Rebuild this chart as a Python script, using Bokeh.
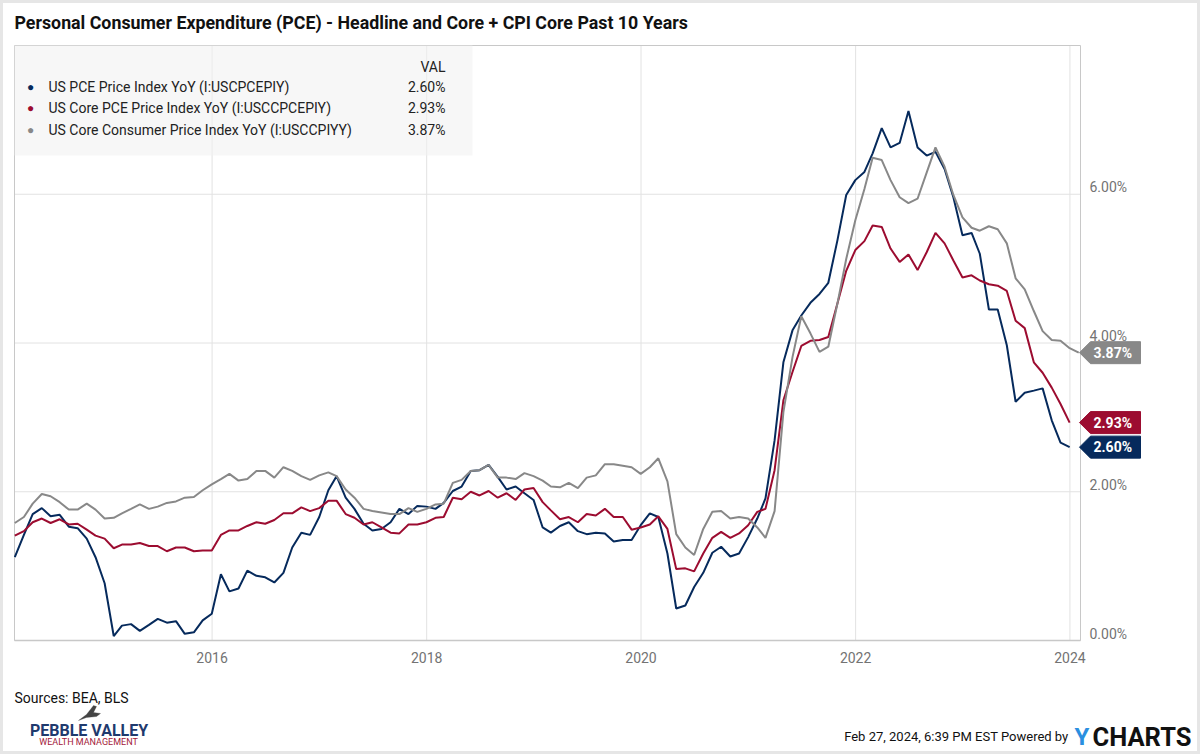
import pandas as pd
from bokeh.plotting import figure
from bokeh.models import (ColumnDataSource, Label, LabelSet, BoxAnnotation, PolyAnnotation, Range1d)
from bokeh.core.properties import value
from bokeh.embed import file_html
from bokeh.resources import INLINE

# ---------------- data (monthly YoY %, month-end dates) ----------------
pce_2014 = [1.12, 1.42, 1.70, 1.78, 1.67, 1.69, 1.53, 1.51, 1.37, 1.12, 0.77]
pce_2015 = [0.06, 0.20, 0.22, 0.13, 0.21, 0.29, 0.24, 0.26, 0.09, 0.11, 0.27, 0.36]
pce_2016 = [0.89, 0.66, 0.70, 0.94, 0.87, 0.85, 0.78, 0.91, 1.25, 1.45, 1.42, 1.66]
pce_2017 = [2.02, 2.21, 1.92, 1.77, 1.57, 1.48, 1.50, 1.59, 1.77, 1.70, 1.81, 1.80]
pce_2018 = [1.77, 1.85, 2.01, 2.07, 2.28, 2.29, 2.36, 2.20, 2.03, 2.07, 1.98, 1.89]
pce_2019 = [1.52, 1.45, 1.54, 1.59, 1.47, 1.43, 1.45, 1.44, 1.33, 1.35, 1.35, 1.55]
pce_2020 = [1.71, 1.66, 1.17, 0.43, 0.47, 0.72, 0.91, 1.18, 1.26, 1.13, 1.17, 1.39]
pce_2021 = [1.64, 1.91, 2.69, 3.74, 4.17, 4.37, 4.54, 4.66, 4.81, 5.38, 5.99, 6.19]
pce_2022 = [6.30, 6.55, 6.89, 6.63, 6.69, 7.12, 6.63, 6.52, 6.57, 6.34, 5.96, 5.45]
pce_2023 = [5.48, 5.20, 4.45, 4.45, 3.97, 3.21, 3.33, 3.36, 3.39, 2.96, 2.66, 2.60]

core_pce_2014 = [1.41, 1.47, 1.59, 1.64, 1.58, 1.63, 1.56, 1.57, 1.49, 1.41, 1.37]
core_pce_2015 = [1.24, 1.29, 1.29, 1.31, 1.27, 1.27, 1.20, 1.25, 1.25, 1.20, 1.21, 1.21]
core_pce_2016 = [1.42, 1.48, 1.48, 1.54, 1.59, 1.57, 1.62, 1.71, 1.71, 1.79, 1.74, 1.78]
core_pce_2017 = [1.88, 1.88, 1.70, 1.65, 1.56, 1.59, 1.52, 1.45, 1.44, 1.56, 1.56, 1.59]
core_pce_2018 = [1.65, 1.66, 1.92, 1.90, 2.00, 1.95, 2.01, 1.92, 1.98, 1.89, 2.03, 2.05]
core_pce_2019 = [1.86, 1.75, 1.63, 1.66, 1.59, 1.70, 1.68, 1.77, 1.66, 1.66, 1.49, 1.52]
core_pce_2020 = [1.56, 1.67, 1.50, 0.96, 0.97, 0.93, 1.17, 1.38, 1.46, 1.38, 1.44, 1.55]
core_pce_2021 = [1.73, 1.77, 2.29, 3.23, 3.61, 3.96, 4.03, 4.04, 4.08, 4.53, 4.97, 5.25]
core_pce_2022 = [5.37, 5.58, 5.56, 5.27, 5.09, 5.19, 4.98, 5.22, 5.48, 5.34, 5.11, 4.88]
core_pce_2023 = [4.91, 4.84, 4.79, 4.77, 4.70, 4.30, 4.20, 3.74, 3.60, 3.40, 3.18, 2.93]

core_cpi_2014 = [1.58, 1.66, 1.84, 1.97, 1.94, 1.86, 1.76, 1.76, 1.84, 1.76, 1.64]
core_cpi_2015 = [1.65, 1.71, 1.77, 1.83, 1.77, 1.80, 1.85, 1.87, 1.92, 1.93, 2.02, 2.10]
core_cpi_2016 = [2.17, 2.24, 2.15, 2.17, 2.28, 2.28, 2.19, 2.33, 2.28, 2.21, 2.16, 2.22]
core_cpi_2017 = [2.26, 2.21, 2.03, 1.92, 1.77, 1.74, 1.72, 1.70, 1.70, 1.78, 1.73, 1.77]
core_cpi_2018 = [1.83, 1.84, 2.12, 2.16, 2.28, 2.29, 2.36, 2.19, 2.19, 2.17, 2.25, 2.21]
core_cpi_2019 = [2.15, 2.07, 2.06, 2.12, 2.05, 2.19, 2.22, 2.37, 2.37, 2.35, 2.33, 2.24]
core_cpi_2020 = [2.33, 2.45, 2.14, 1.43, 1.25, 1.15, 1.50, 1.73, 1.74, 1.64, 1.66, 1.64]
core_cpi_2021 = [1.52, 1.38, 1.74, 3.07, 3.81, 4.36, 4.13, 3.88, 3.95, 4.53, 5.13, 5.65]
core_cpi_2022 = [6.07, 6.49, 6.46, 6.19, 5.96, 5.88, 5.94, 6.29, 6.63, 6.37, 5.99, 5.69]
core_cpi_2023 = [5.55, 5.51, 5.57, 5.53, 5.34, 4.87, 4.72, 4.43, 4.16, 4.04, 4.03, 3.93]
core_cpi_2024 = [3.87]

series_names = ["US PCE Price Index YoY (I:USCPCEPIY)",
                "US Core PCE Price Index YoY (I:USCCPCEPIY)",
                "US Core Consumer Price Index YoY (I:USCCPIYY)"]
series_colors = ["#062a5c", "#9c0c30", "#888888"]
y_ticks = [2, 4, 6]
y_label_vals = [0, 2, 4, 6]
y_tick_labels = ["0.00%", "2.00%", "4.00%", "6.00%"]
x_tick_years = [2016, 2018, 2020, 2022, 2024]
x_tick_labels = ["2016", "2018", "2020", "2022", "2024"]

pce = (pce_2014 + pce_2015 + pce_2016 + pce_2017 + pce_2018 + pce_2019 +
       pce_2020 + pce_2021 + pce_2022 + pce_2023)
core_pce = (core_pce_2014 + core_pce_2015 + core_pce_2016 + core_pce_2017 + core_pce_2018 +
            core_pce_2019 + core_pce_2020 + core_pce_2021 + core_pce_2022 + core_pce_2023)
core_cpi = (core_cpi_2014 + core_cpi_2015 + core_cpi_2016 + core_cpi_2017 + core_cpi_2018 +
            core_cpi_2019 + core_cpi_2020 + core_cpi_2021 + core_cpi_2022 + core_cpi_2023 +
            core_cpi_2024)
all_series = [pce, core_pce, core_cpi]


def month_ends(n):
    return pd.date_range(start="2014-02-01", periods=n, freq="MS") + pd.offsets.MonthEnd(0)


def ms(ts):
    return pd.Timestamp(ts).value / 1e6


# ---------------- layout (whole canvas is the frame) ----------------
W, H = 1200, 754
PL, PR, PT, PB = 14, 1080, 45, 640          # plot area in canvas pixels
X_LO, X_HI = ms("2014-02-27"), ms("2024-02-06")
Y_LO, Y_HI = 0.0, 8.0
mspp = (X_HI - X_LO) / (PR - PL)
upp = (Y_HI - Y_LO) / (PB - PT)

FONT = "Roboto"
TICK_GRAY = "#737373"
GRID = "#e2e2e2"
BORDER = "#c8c8c8"

p = figure(width=W, height=H, output_backend="svg", toolbar_location=None,
           x_axis_location=None, y_axis_location=None,
           x_range=Range1d(X_LO - PL * mspp, X_HI + (W - PR) * mspp),
           y_range=Range1d(Y_LO - (H - PB) * upp, Y_HI + PT * upp),
           min_border=0)
p.xgrid.visible = False
p.ygrid.visible = False
p.background_fill_color = "white"
p.border_fill_color = "white"
p.outline_line_color = "#e6e6e6"
p.outline_line_width = 5

tick_ms = [ms(f"{y}-01-01") for y in x_tick_years]

# grid lines
p.segment(x0=tick_ms, y0=[Y_LO] * len(tick_ms), x1=tick_ms, y1=[Y_HI] * len(tick_ms),
          line_color=GRID, line_width=1)
p.segment(x0=[X_LO] * len(y_ticks), y0=y_ticks, x1=[X_HI] * len(y_ticks), y1=y_ticks,
          line_color=GRID, line_width=1)

# legend box
p.add_layout(BoxAnnotation(left=PL, right=472, top=H - PT, bottom=H - 155,
                           left_units="screen", right_units="screen",
                           top_units="screen", bottom_units="screen",
                           fill_color="#f2f2f2", fill_alpha=0.6, line_color=None))

# plot border
p.quad(left=[X_LO], right=[X_HI], bottom=[Y_LO], top=[Y_HI], fill_color=None,
       line_color=BORDER, line_width=1)
p.segment(x0=[X_LO], y0=[Y_LO], x1=[X_HI], y1=[Y_LO], line_color=BORDER, line_width=1.5)

# lines
for vals, col in zip(all_series, series_colors):
    src = ColumnDataSource(dict(x=month_ends(len(vals)), y=vals))
    p.line("x", "y", source=src, line_color=col, line_width=2)

# x tick labels
p.add_layout(LabelSet(source=ColumnDataSource(dict(x=tick_ms, t=x_tick_labels)),
                      x="x", y=H - 657, text="t", x_units="data", y_units="screen",
                      text_align="center", text_baseline="middle",
                      text_font=value(FONT), text_font_size=value("14px"),
                      text_color=value(TICK_GRAY)))

# right-side y tick labels
p.add_layout(LabelSet(source=ColumnDataSource(dict(y=y_label_vals, t=y_tick_labels)),
                      x=1089, y="y", text="t", x_units="screen", y_units="data",
                      y_offset=2, text_baseline="alphabetic", text_align="left",
                      text_font=value(FONT), text_font_size=value("14px"),
                      text_color=value(TICK_GRAY)))

# end-value badges
BH = 11 * upp
for vals, col in zip(all_series, series_colors):
    v = vals[-1]
    p.add_layout(PolyAnnotation(xs=[1079, 1090, 1140, 1140, 1090],
                                ys=[v, v + BH, v + BH, v - BH, v - BH],
                                xs_units="screen", ys_units="data",
                                fill_color=col, fill_alpha=1.0, line_color=col, line_alpha=1.0))
    p.add_layout(Label(x=1093, y=v, x_units="screen", y_units="data", text=f"{v:.2f}%",
                       text_baseline="middle", text_align="left", text_font=FONT,
                       text_font_style="bold", text_font_size="14px", text_color="white"))

# legend contents
row_y = [H - 86, H - 107, H - 129]
last_vals = [f"{s[-1]:.2f}%" for s in all_series]
leg = ColumnDataSource(dict(y=row_y, name=series_names, val=last_vals, col=series_colors,
                            dot=["\u25CF"] * 3))
p.add_layout(LabelSet(source=leg, x=30, y="y", text="dot", x_units="screen", y_units="screen",
                      text_align="center", text_baseline="middle", text_font=value(FONT),
                      text_font_size=value("12px"), text_color="col"))
p.add_layout(LabelSet(source=leg, x=48, y="y", text="name", x_units="screen", y_units="screen",
                      text_align="left", text_baseline="middle", text_font=value(FONT),
                      text_font_size=value("14px"), text_color=value("#222222")))
p.add_layout(LabelSet(source=leg, x=445, y="y", text="val", x_units="screen", y_units="screen",
                      text_align="right", text_baseline="middle", text_font=value(FONT),
                      text_font_size=value("14px"), text_color=value("#222222")))
p.add_layout(Label(x=445, y=H - 66, x_units="screen", y_units="screen", text="VAL",
                   text_align="right", text_baseline="middle", text_font=FONT,
                   text_font_size="14px", text_color="#222222"))

# title
p.add_layout(Label(x=PL, y=H - 22, x_units="screen", y_units="screen",
                   text="Personal Consumer Expenditure (PCE) - Headline and Core + CPI Core Past 10 Years",
                   text_align="left", text_baseline="middle", text_font=FONT,
                   text_font_style="bold", text_font_size="17.8px", text_color="#111111"))

# footer
p.add_layout(Label(x=PL, y=H - 697, x_units="screen", y_units="screen", text="Sources: BEA, BLS",
                   text_align="left", text_baseline="middle", text_font=FONT,
                   text_font_size="14px", text_color="#111111"))
p.add_layout(PolyAnnotation(xs=[78, 86, 93, 96, 93, 100, 96, 86],
                            ys=[H - 720, H - 714, H - 705, H - 706, H - 712, H - 713, H - 716, H - 717],
                            xs_units="screen", ys_units="screen",
                            fill_color="#444444", fill_alpha=1.0, line_color="#444444"))
p.add_layout(Label(x=88.5, y=H - 730, x_units="screen", y_units="screen", text="PEBBLE VALLEY",
                   text_align="center", text_baseline="middle", text_font=FONT,
                   text_font_style="bold", text_font_size="16px", text_color="#1f3a6e"))
p.add_layout(Label(x=88, y=H - 741.5, x_units="screen", y_units="screen", text="WEALTH MANAGEMENT",
                   text_align="center", text_baseline="middle", text_font=FONT,
                   text_font_size="9px", text_color="#a3203a"))
p.add_layout(Label(x=1068, y=H - 736, x_units="screen", y_units="screen",
                   text="Feb 27, 2024, 6:39 PM EST Powered by",
                   text_align="right", text_baseline="middle", text_font=FONT,
                   text_font_size="13px", text_color="#111111"))
p.add_layout(Label(x=1074, y=H - 736, x_units="screen", y_units="screen", text="Y",
                   text_align="left", text_baseline="middle", text_font=FONT,
                   text_font_style="bold", text_font_size="24px", text_color="#2a8fe0"))
p.add_layout(Label(x=1092, y=H - 736, x_units="screen", y_units="screen", text="CHARTS",
                   text_align="left", text_baseline="middle", text_font=FONT,
                   text_font_style="bold", text_font_size="25.5px", text_color="#111111"))

open("out.html", "w").write(file_html(p, INLINE))
